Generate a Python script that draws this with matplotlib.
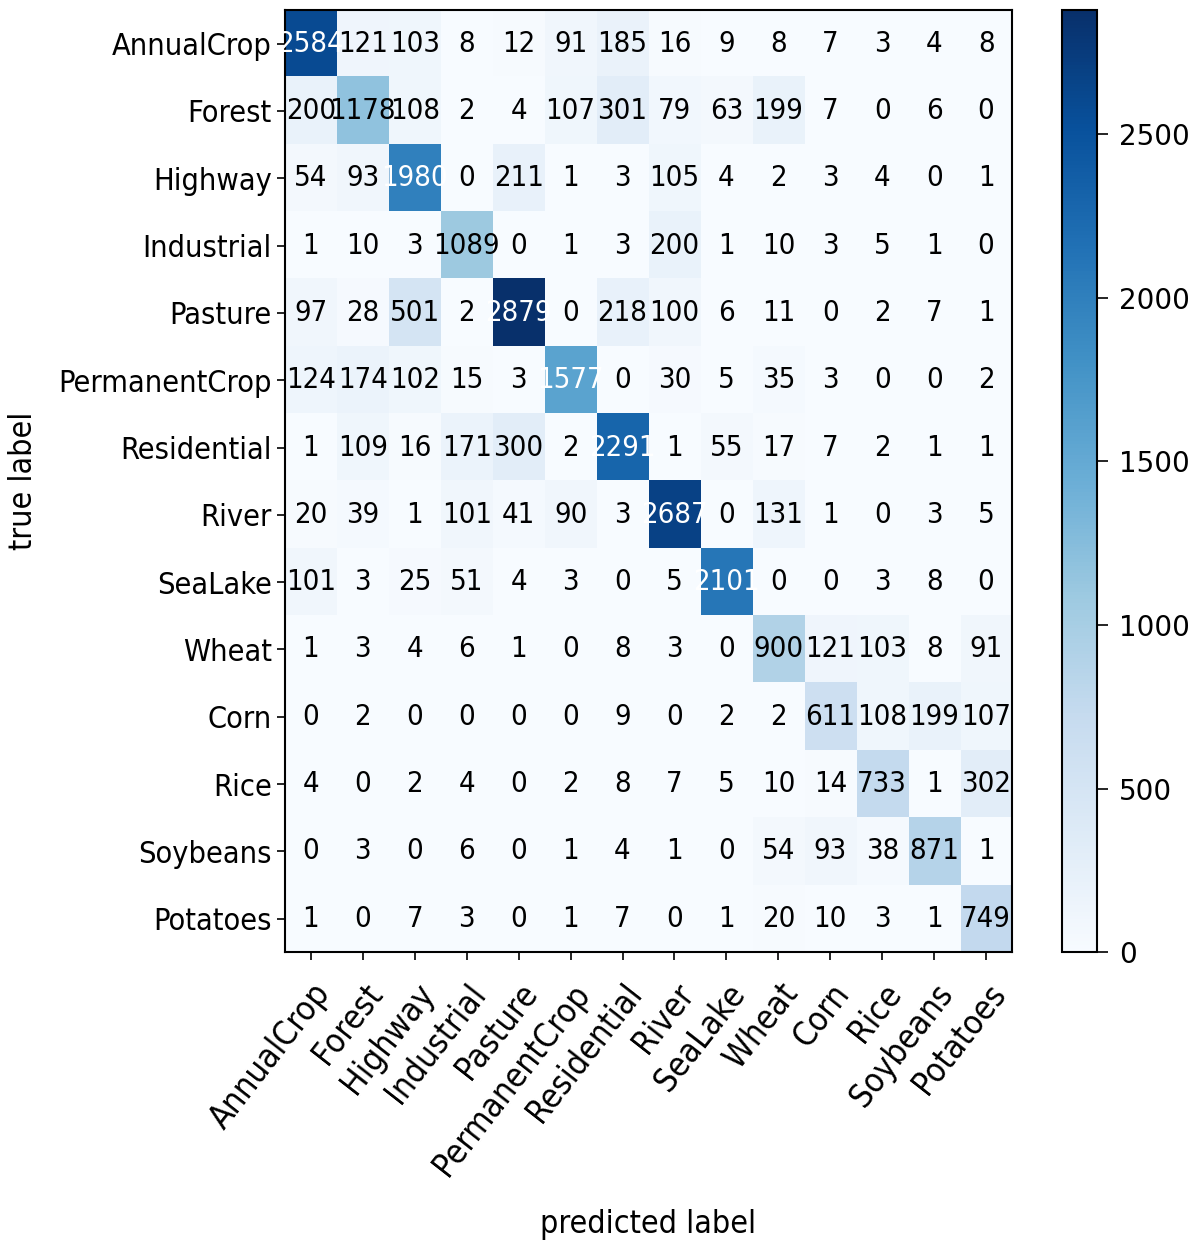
import numpy as np
import matplotlib
matplotlib.use("Agg")
import matplotlib.pyplot as plt

classes = ["AnnualCrop", "Forest", "Highway", "Industrial", "Pasture",
           "PermanentCrop", "Residential", "River", "SeaLake", "Wheat",
           "Corn", "Rice", "Soybeans", "Potatoes"]

row_annualcrop = [2584, 121, 103, 8, 12, 91, 185, 16, 9, 8, 7, 3, 4, 8]
row_forest = [200, 1178, 108, 2, 4, 107, 301, 79, 63, 199, 7, 0, 6, 0]
row_highway = [54, 93, 1980, 0, 211, 1, 3, 105, 4, 2, 3, 4, 0, 1]
row_industrial = [1, 10, 3, 1089, 0, 1, 3, 200, 1, 10, 3, 5, 1, 0]
row_pasture = [97, 28, 501, 2, 2879, 0, 218, 100, 6, 11, 0, 2, 7, 1]
row_permanentcrop = [124, 174, 102, 15, 3, 1577, 0, 30, 5, 35, 3, 0, 0, 2]
row_residential = [1, 109, 16, 171, 300, 2, 2291, 1, 55, 17, 7, 2, 1, 1]
row_river = [20, 39, 1, 101, 41, 90, 3, 2687, 0, 131, 1, 0, 3, 5]
row_sealake = [101, 3, 25, 51, 4, 3, 0, 5, 2101, 0, 0, 3, 8, 0]
row_wheat = [1, 3, 4, 6, 1, 0, 8, 3, 0, 900, 121, 103, 8, 91]
row_corn = [0, 2, 0, 0, 0, 0, 9, 0, 2, 2, 611, 108, 199, 107]
row_rice = [4, 0, 2, 4, 0, 2, 8, 7, 5, 10, 14, 733, 1, 302]
row_soybeans = [0, 3, 0, 6, 0, 1, 4, 1, 0, 54, 93, 38, 871, 1]
row_potatoes = [1, 0, 7, 3, 0, 1, 7, 0, 1, 20, 10, 3, 1, 749]

cm = np.array([row_annualcrop, row_forest, row_highway, row_industrial,
               row_pasture, row_permanentcrop, row_residential, row_river,
               row_sealake, row_wheat, row_corn, row_rice, row_soybeans,
               row_potatoes])

fs = 22

fig = plt.figure(figsize=(12.02, 12.45), dpi=100)
ax = fig.add_axes([0.237, 0.235, 0.605, 0.757])
cax = fig.add_axes([0.8835, 0.235, 0.029, 0.757])

im = ax.imshow(cm, interpolation="nearest", cmap=plt.cm.Blues, aspect="auto")
cb = fig.colorbar(im, cax=cax)
cb.ax.tick_params(labelsize=20, length=8, width=1.2, pad=8)
cb.outline.set_linewidth(1.5)

ticks = np.arange(len(classes))
ax.set_xticks(ticks)
ax.set_yticks(ticks)
ax.set_xticklabels(classes, rotation=52, ha="right", rotation_mode="anchor",
                   fontsize=fs + 2, fontstretch="condensed")
ax.set_yticklabels(classes, fontsize=fs, fontstretch="condensed")
ax.tick_params(length=6, width=1.2)
ax.tick_params(axis="x", pad=12)
for s in ax.spines.values():
    s.set_linewidth(1.5)

# white text on the dark cells
thresh = cm.max() / 2.
for i in range(cm.shape[0]):
    for j in range(cm.shape[1]):
        ax.text(j, i, format(cm[i, j], "d"), ha="center", va="center",
                fontsize=fs - 1, fontstretch="condensed",
                color="white" if cm[i, j] > thresh else "black")

ax.set_xlabel("predicted label", fontsize=fs + 1, fontstretch="condensed",
              labelpad=20)
ax.set_ylabel("true label", fontsize=fs + 1, fontstretch="condensed",
              labelpad=14)

fig.savefig("out.png", dpi=100)
